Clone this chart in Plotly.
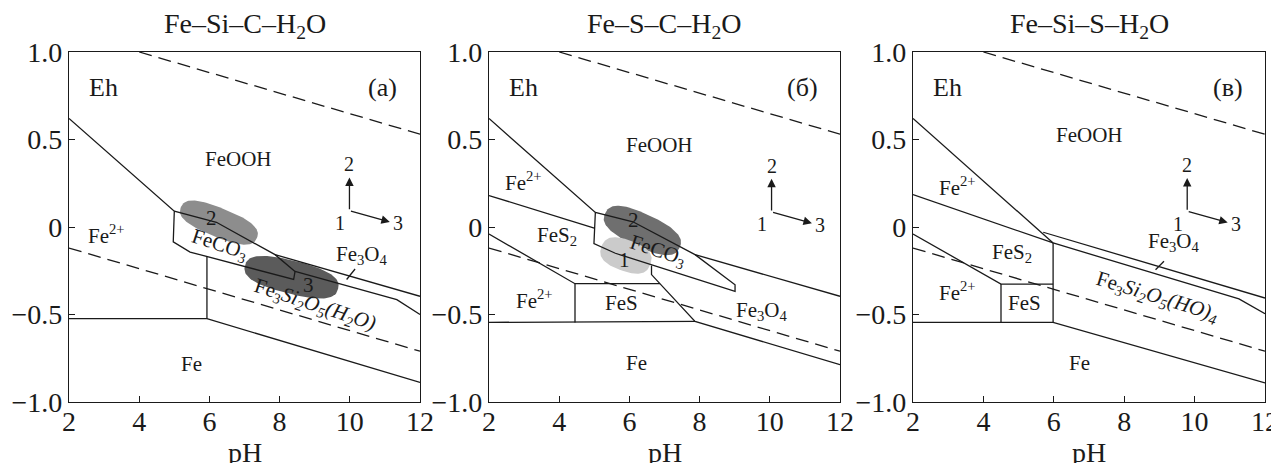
import numpy as np
import plotly.graph_objects as go

# ---------------- data (pH, Eh) ----------------
PH_TICKS = [2, 4, 6, 8, 10, 12]
EH_TICKS = [-1.0, -0.5, 0.0, 0.5, 1.0]
EH_TICK_TEXT = ["\u22121.0", "\u22120.5", "0", "0.5", "1.0"]
TITLES = ["Fe\u2013Si\u2013C\u2013H<sub>2</sub>O", "Fe\u2013S\u2013C\u2013H<sub>2</sub>O", "Fe\u2013Si\u2013S\u2013H<sub>2</sub>O"]
PANEL_TAGS = ["(a)", "(\u0431)", "(\u0432)"]

# water stability limits (dashed)
O2_PH = [4, 12]
O2_EH = [1.0, 0.53]
H2_PH = [2, 12]
H2_EH = [-0.12, -0.71]

# panel (a) Fe-Si-C-H2O boundaries
A_LINES = [
    ([2, 5.0, 6.2, 7.87, 8.44, 8.40, 5.45, 4.97, 5.0], [0.62, 0.09, 0.027, -0.158, -0.254, -0.30, -0.143, -0.085, 0.09]),
    ([7.87, 12], [-0.158, -0.396]),
    ([8.44, 11.34, 12], [-0.254, -0.415, -0.50]),
    ([5.93, 5.93], [-0.169, -0.524]),
    ([2, 5.93, 12], [-0.524, -0.524, -0.888]),
    ([9.91, 10.15], [-0.30, -0.24]),
]
# panel (б) Fe-S-C-H2O boundaries
B_LINES = [
    ([2, 5.03, 6.1, 7.87, 9.01, 9.01, 5.6, 4.99, 5.03], [0.62, 0.083, 0.03, -0.158, -0.33, -0.368, -0.15, -0.095, 0.083]),
    ([2, 5.0], [0.18, -0.006]),
    ([7.87, 12], [-0.158, -0.396]),
    ([6.63, 6.63, 7.87, 12], [-0.22, -0.272, -0.539, -0.787]),
    ([2, 4.45, 6.87], [-0.04, -0.324, -0.324]),
    ([4.45, 4.45], [-0.324, -0.545]),
    ([2, 7.87], [-0.545, -0.539]),
]
# panel (в) Fe-Si-S-H2O boundaries
C_LINES = [
    ([2, 5.98], [0.62, -0.091]),
    ([2, 5.98], [0.185, -0.091]),
    ([5.70, 12], [-0.03, -0.406]),
    ([5.98, 11.26, 12], [-0.091, -0.411, -0.495]),
    ([2, 4.50, 5.98], [-0.04, -0.326, -0.326]),
    ([4.50, 4.50], [-0.326, -0.545]),
    ([5.98, 5.98], [-0.091, -0.545]),
    ([2, 5.98, 12], [-0.545, -0.545, -0.891]),
    ([8.89, 9.13], [-0.244, -0.196]),
]

# shaded sample fields: centre pH, centre Eh
A_FIELD_PH = [6.27, 8.34]
A_FIELD_EH = [0.025, -0.287]
B_FIELD_PH = [6.37, 5.90]
B_FIELD_EH = [-0.02, -0.163]

# region labels: (text, pH, Eh, angle)
A_LABELS = [
    ("FeOOH", 6.82, 0.389, 0), ("Fe<sup>2+</sup>", 3.07, -0.044, 0), ("2", 6.06, 0.051, 0),
    ("FeCO<sub>3</sub>", 6.30, -0.10, 18), ("Fe<sub>3</sub>O<sub>4</sub>", 10.34, -0.158, 0),
    ("3", 8.82, -0.33, 0),
    ("Fe<sub>3</sub><i>Si<sub>2</sub>O<sub>5</sub>(H<sub>2</sub>O)</i>", 9.0, -0.444, 18),
    ("Fe", 5.5, -0.783, 0),
]
B_LABELS = [
    ("FeOOH", 6.87, 0.47, 0), ("Fe<sup>2+</sup>", 2.98, 0.26, 0), ("FeS<sub>2</sub>", 3.93, -0.053, 0),
    ("2", 6.11, 0.042, 0), ("FeCO<sub>3</sub>", 6.82, -0.139, 18), ("1", 5.85, -0.187, 0),
    ("Fe<sup>2+</sup>", 3.31, -0.415, 0), ("FeS", 5.78, -0.434, 0),
    ("Fe<sub>3</sub>O<sub>4</sub>", 9.77, -0.478, 0), ("Fe", 6.19, -0.777, 0),
]
C_LABELS = [
    ("FeOOH", 7.0, 0.528, 0), ("Fe<sup>2+</sup>", 3.25, 0.233, 0), ("FeS<sub>2</sub>", 4.82, -0.149, 0),
    ("Fe<sup>2+</sup>", 3.25, -0.368, 0), ("FeS", 5.18, -0.434, 0),
    ("Fe<sub>3</sub>O<sub>4</sub>", 9.41, -0.088, 0),
    ("Fe<sub>3</sub><i>Si<sub>2</sub>O<sub>5</sub>(HO)<sub>4</sub></i>", 8.94, -0.40, 17),
    ("Fe", 6.74, -0.777, 0),
]
# direction-indicator origin (pH, Eh)
ARROW_PH = [9.99, 10.05, 9.79]
ARROW_EH = [0.093, 0.086, 0.09]

# ---------------- style / layout ----------------
FONT = "Liberation Serif"
INK = "#1a1a1a"
LW = 1.3
PAGE_PAD = 8            # browser default body margin
FIG_W = 1279 - PAGE_PAD
FIG_H = 463 - PAGE_PAD


def fx(px):
    return (px - PAGE_PAD) / FIG_W


def fy(py):
    return 1 - (py - PAGE_PAD) / FIG_H


X_DOMAINS = [(fx(69), fx(420)), (fx(489), fx(840)), (fx(913), fx(1265))]
Y_DOMAIN = (fy(402), fy(52))
PX_PH = 35.1
PX_EH = 175.0
A_FIELD_STYLE = [dict(a=41, b=14.5, ang=22, color="#8d8d8d"), dict(a=48, b=16.5, ang=14, color="#5b5b5b")]
B_FIELD_STYLE = [dict(a=41, b=16.5, ang=25, color="#6f6f6f"), dict(a=26, b=15.5, ang=20, color="#cbcbcb")]


def field_outline(cx, cy, a, b, ang, n=2.6, m=120):
    t = np.linspace(0, 2 * np.pi, m)
    c, s = np.cos(t), np.sin(t)
    u = a * np.sign(c) * np.abs(c) ** (2 / n)
    v = b * np.sign(s) * np.abs(s) ** (2 / n)
    th = np.radians(ang)
    dx = u * np.cos(th) - v * np.sin(th)
    dy = u * np.sin(th) + v * np.cos(th)
    return cx + dx / PX_PH, cy - dy / PX_EH


fig = go.Figure()
annotations = []
panels = [
    (A_LINES, A_LABELS, list(zip(A_FIELD_PH, A_FIELD_EH, A_FIELD_STYLE))),
    (B_LINES, B_LABELS, list(zip(B_FIELD_PH, B_FIELD_EH, B_FIELD_STYLE))),
    (C_LINES, C_LABELS, []),
]

for i, (lines, labels, fields) in enumerate(panels):
    xr = "x" if i == 0 else f"x{i + 1}"
    yr = "y" if i == 0 else f"y{i + 1}"
    for cx, cy, st in fields:
        bx, by = field_outline(cx, cy, st["a"], st["b"], st["ang"])
        fig.add_trace(go.Scatter(x=bx, y=by, mode="lines", fill="toself", fillcolor=st["color"],
                                 line=dict(width=0, color=st["color"]), xaxis=xr, yaxis=yr,
                                 hoverinfo="skip", showlegend=False))
    for px, py in lines:
        fig.add_trace(go.Scatter(x=px, y=py, mode="lines", line=dict(color=INK, width=LW),
                                 xaxis=xr, yaxis=yr, hoverinfo="skip", showlegend=False))
    for px, py in [(O2_PH, O2_EH), (H2_PH, H2_EH)]:
        fig.add_trace(go.Scatter(x=px, y=py, mode="lines", line=dict(color=INK, width=LW, dash="13px,7px"),
                                 xaxis=xr, yaxis=yr, hoverinfo="skip", showlegend=False))
    for txt, px, py, ang in labels:
        annotations.append(dict(x=px, y=py, xref=xr, yref=yr, text=txt, showarrow=False, textangle=ang,
                                font=dict(family=FONT, size=21, color=INK)))
    annotations.append(dict(x=2.98, y=0.80, xref=xr, yref=yr, text="Eh", showarrow=False,
                            font=dict(family=FONT, size=26, color=INK)))
    annotations.append(dict(x=10.94, y=0.80, xref=xr, yref=yr, text=PANEL_TAGS[i], showarrow=False,
                            font=dict(family=FONT, size=26, color=INK)))
    ox, oy = ARROW_PH[i], ARROW_EH[i]
    for tx, ty in [(ox, oy + 0.19), (ox + 1.15, oy - 0.064)]:
        annotations.append(dict(x=tx, y=ty, ax=ox, ay=oy, xref=xr, yref=yr, axref=xr, ayref=yr, text="",
                                showarrow=True, arrowhead=2, arrowsize=1.3, arrowwidth=1.3, arrowcolor=INK))
    for txt, tx, ty in [("2", ox, oy + 0.265), ("1", ox - 0.27, oy - 0.07), ("3", ox + 1.38, oy - 0.072)]:
        annotations.append(dict(x=tx, y=ty, xref=xr, yref=yr, text=txt, showarrow=False,
                                font=dict(family=FONT, size=20, color=INK)))
    xc = (X_DOMAINS[i][0] + X_DOMAINS[i][1]) / 2
    annotations.append(dict(x=xc, y=fy(26), xref="paper", yref="paper", text=TITLES[i], showarrow=False,
                            xanchor="center", yanchor="middle", font=dict(family=FONT, size=28, color=INK)))
    annotations.append(dict(x=xc, y=fy(452), xref="paper", yref="paper", text="pH", showarrow=False,
                            xanchor="center", yanchor="middle", font=dict(family=FONT, size=28, color=INK)))

axis_common = dict(showline=True, mirror=True, linecolor=INK, linewidth=1.3, ticks="inside", ticklen=6,
                   tickwidth=1.3, tickcolor=INK, showgrid=False, zeroline=False, automargin=False,
                   tickfont=dict(family=FONT, size=28, color=INK))
layout = dict(width=FIG_W, height=FIG_H, margin=dict(l=0, r=0, t=0, b=0, autoexpand=False),
              plot_bgcolor="white", paper_bgcolor="white", showlegend=False, annotations=annotations)
for i in range(3):
    xk = "xaxis" if i == 0 else f"xaxis{i + 1}"
    yk = "yaxis" if i == 0 else f"yaxis{i + 1}"
    layout[xk] = dict(axis_common, domain=list(X_DOMAINS[i]), range=[2, 12], tickvals=PH_TICKS,
                      ticklabelstandoff=-6, anchor="y" if i == 0 else f"y{i + 1}")
    layout[yk] = dict(axis_common, domain=list(Y_DOMAIN), range=[-1, 1], tickvals=EH_TICKS,
                      ticktext=EH_TICK_TEXT, anchor="x" if i == 0 else f"x{i + 1}")
fig.update_layout(**layout)
fig.write_html("out.html")
